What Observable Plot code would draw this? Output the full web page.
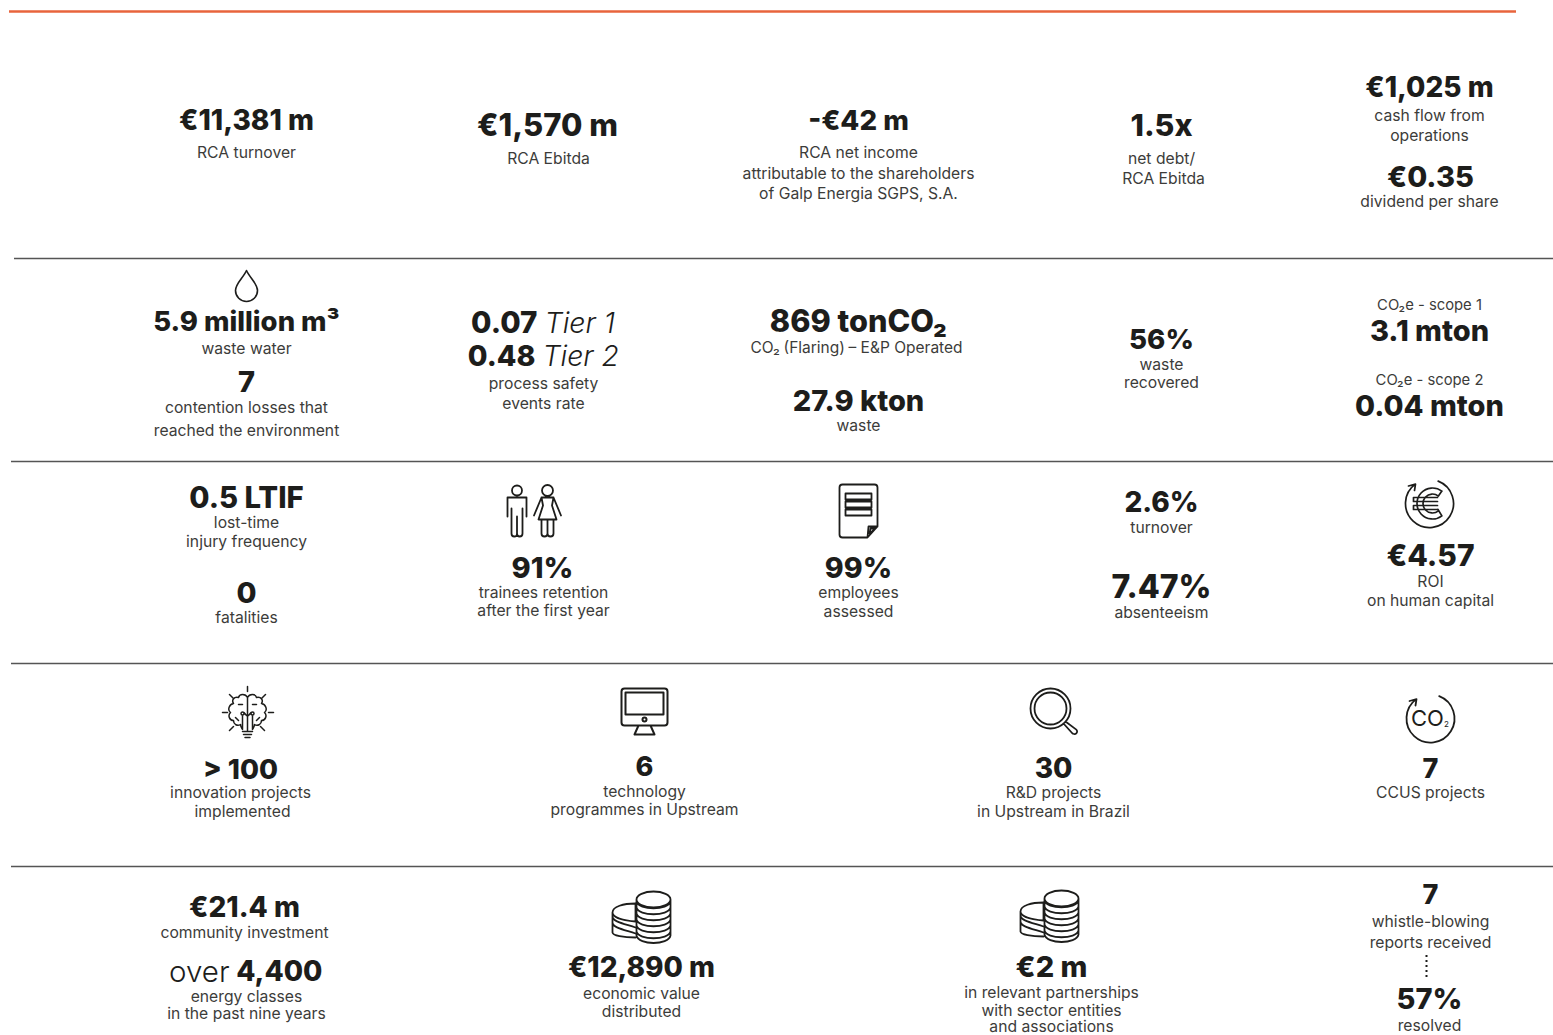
<!DOCTYPE html>
<html><head><meta charset="utf-8">
<script src="https://cdn.jsdelivr.net/npm/d3@7"></script>
<script src="https://cdn.jsdelivr.net/npm/@observablehq/plot@0.6"></script>
<style>html,body{margin:0;padding:0;background:#fff;overflow:hidden}svg{display:block}</style>
</head><body><div id="chart"></div>
<script>
// ---- figures and wording ----
const headlines = ["€11,381 m","€1,570 m","-€42 m","1.5x","€1,025 m","€0.35",
  "5.9 million m³","7","869 tonCO₂","27.9 kton","56%","3.1 mton","0.04 mton",
  "0.5 LTIF","0","91%","99%","2.6%","7.47%","€4.57",
  "> 100","6","30","7",
  "€21.4 m","€12,890 m","€2 m","7","57%"];
const splitHeadlines = ["0.07","0.48","4,400"];
const emphasis = ["Tier 1","Tier 2","over"];
const captions = ["RCA turnover","RCA Ebitda","RCA net income","attributable to the shareholders","of Galp Energia SGPS, S.A.",
  "net debt/","RCA Ebitda","cash flow from","operations","dividend per share",
  "waste water","contention losses that","reached the environment","process safety","events rate","waste","waste","recovered",
  "lost-time","injury frequency","fatalities","trainees retention","after the first year","employees","assessed","turnover","absenteeism","ROI","on human capital",
  "innovation projects","implemented","technology","programmes in Upstream","R&D projects","in Upstream in Brazil","CCUS projects",
  "community investment","energy classes","in the past nine years","economic value","distributed","in relevant partnerships","with sector entities","and associations",
  "whistle-blowing","reports received","resolved"];
const scopeLabels = ["CO₂e - scope 1","CO₂e - scope 2"];
const flaringParts = ["CO₂","(Flaring)","– E&P Operated"];

// ---- layout, kept apart from the values ----
const headlineX = [246,547,858,1161,1429,1430, 246,246,858,858,1161,1429,1429, 246,246,542,858,1161,1161,1430, 240,644,1053,1430, 244,641,1051,1430,1429];
const headlineY = [121,126,121,126,88,177, 322,382,322,401,340,331,406, 498,593,568,568,503,587,556, 770,767,769,769, 908,968,967,895,999];
const headlineSize = [28,31,27.7,30.5,28,29, 27.5,29,30.7,29,27.7,29,29, 29.3,29,29,28.6,28,32,30, 27.5,27,28,27, 28,28,29,27,29];
const splitX = [537,535,322];
const splitY = [323,356,972];
const splitSize = [29.6,28.6,28];
const emphasisX = [544,542,229];
const emphasisY = [323,356,972];
const emphasisSize = [28.5,28.4,29.5];
const captionX = [246,548,858,858,858,1161,1163,1429,1429,1429,
  246,246,246,543,543,858,1161,1161,
  246,246,246,543,543,858,858,1161,1161,1430,1430,
  240,242,644,644,1053,1053,1430,
  244,246,246,641,641,1051,1051,1051,1430,1430,1429];
const captionY = [152,158,152,173,193,158,178,115,135,201,
  348,407,430,383,403,425,364,382,
  522,541,617,592,610,592,611,527,612,581,600,
  792,811,791,809,792,811,792,
  932,996,1013,993,1011,992,1010,1026,921,942,1025];
const scopeX = [1429,1429];
const scopeY = [304.5,379.5];
const flaringX = [750,783,848];
const separatorY = [258,461,663,866];
const separatorStart = [14,11,11,11];

const ink = "#1d1d1b", soft = "#3c3c3a";

// ---- icon glyphs, drawn relative to their anchor ----
function ell(c,x,y,rx,ry){const k=.5523;c.moveTo(x-rx,y);c.bezierCurveTo(x-rx,y-ry*k,x-rx*k,y-ry,x,y-ry);c.bezierCurveTo(x+rx*k,y-ry,x+rx,y-ry*k,x+rx,y);c.bezierCurveTo(x+rx,y+ry*k,x+rx*k,y+ry,x,y+ry);c.bezierCurveTo(x-rx*k,y+ry,x-rx,y+ry*k,x-rx,y);c.closePath();}
function circ(c,x,y,r){c.moveTo(x+r,y);c.arc(x,y,r,0,2*Math.PI);}
function rrect(c,x,y,w,h,r){c.moveTo(x+r,y);c.lineTo(x+w-r,y);c.quadraticCurveTo(x+w,y,x+w,y+r);c.lineTo(x+w,y+h-r);c.quadraticCurveTo(x+w,y+h,x+w-r,y+h);c.lineTo(x+r,y+h);c.quadraticCurveTo(x,y+h,x,y+h-r);c.lineTo(x,y+r);c.quadraticCurveTo(x,y,x+r,y);c.closePath();}
function seg(c,...p){c.moveTo(p[0],p[1]);for(let i=2;i<p.length;i+=2)c.lineTo(p[i],p[i+1]);}
const glyphs = {
  drop:{draw(c){c.moveTo(0,-16);c.bezierCurveTo(3,-9,11,-3,11,4);c.arc(0,4,11,0,Math.PI);c.bezierCurveTo(-11,-3,-3,-9,0,-16);c.closePath();}},
  man:{draw(c){circ(c,0,-20,5);seg(c,-9.5,6,-9.5,-13,9.5,-13,9.5,6);seg(c,-5.5,-2,-5.5,23);c.quadraticCurveTo(-5.5,26,-2.7,26);c.quadraticCurveTo(0,26,0,23);c.lineTo(0,6);c.moveTo(0,23);c.quadraticCurveTo(0,26,2.7,26);c.quadraticCurveTo(5.5,26,5.5,23);c.lineTo(5.5,-2);}},
  woman:{draw(c){circ(c,0,-20,5.5);seg(c,-6,-13,6,-13);seg(c,-6,-13,-13.5,5);seg(c,6,-13,13.5,5);seg(c,-6,-13,-4.5,-5,-9,9,9,9,4.5,-5,6,-13);seg(c,-6,9,-6,23);c.quadraticCurveTo(-6,26,-3,26);c.quadraticCurveTo(0,26,0,23);c.lineTo(0,9);c.moveTo(0,23);c.quadraticCurveTo(0,26,3,26);c.quadraticCurveTo(6,26,6,23);c.lineTo(6,9);}},
  doc:{draw(c){c.moveTo(-16,-26);c.lineTo(16,-26);c.quadraticCurveTo(19,-26,19,-23);c.lineTo(19,16);c.lineTo(9,27);c.lineTo(-16,27);c.quadraticCurveTo(-19,27,-19,24);c.lineTo(-19,-23);c.quadraticCurveTo(-19,-26,-16,-26);c.closePath();c.rect(-13,-17,26,6);c.rect(-13,-9,26,6);c.rect(-13,-1,26,6);seg(c,19,16,10,16,9,27);seg(c,17,18,12,18,11,23,17,18);}},
  euro:{draw(c){c.arc(0,0,24,-1.2,4.08);seg(c,-21,-17.5,-14,-19.4,-15,-13);
    c.moveTo(12,-12);c.arc(3,0,15.5,-.92,.92-2*Math.PI,true);c.lineTo(8.5,6);c.arc(3,0,9.5,.9,-.9+2*Math.PI-4*Math.PI+2*Math.PI,false);c.closePath();
    seg(c,-16,-6,8,-6);seg(c,-16,-2,8,-2);seg(c,-16,2,8,2);seg(c,-16,6,8,6);seg(c,-16,-6,-16,-2);seg(c,-16,2,-16,6);}},
  brain:{draw(c){seg(c,0,-26,0,-21);seg(c,-25,0,-20,0);seg(c,21,0,26,0);seg(c,-18,-18,-14,-14);seg(c,18,-18,14,-14);seg(c,-18,18,-14,14);seg(c,17,18,13,14);
    c.moveTo(0,-15);c.bezierCurveTo(-2,-19,-8,-19,-9,-15);c.bezierCurveTo(-14,-16,-16,-12,-14,-9);c.bezierCurveTo(-19,-8,-20,-2,-17,0);c.bezierCurveTo(-20,3,-18,8,-14,8);c.bezierCurveTo(-14,12,-10,14,-7,12);c.bezierCurveTo(-7,14,-6,15,-5,17);
    c.moveTo(0,-15);c.bezierCurveTo(2,-19,8,-19,9,-15);c.bezierCurveTo(14,-16,16,-12,14,-9);c.bezierCurveTo(19,-8,20,-2,17,0);c.bezierCurveTo(20,3,18,8,14,8);c.bezierCurveTo(14,12,10,14,7,12);c.bezierCurveTo(7,14,6,15,5,17);
    seg(c,0,-15,0,18);seg(c,-5,3,-5,17);seg(c,5,3,5,17);circ(c,-5,1,1.5);circ(c,5,1,1.5);seg(c,-3.5,0,-1,3);seg(c,3.5,0,1,3);
    seg(c,-5,19,5,19);seg(c,-4,22,4,22);seg(c,-2.5,25,2.5,25);
    seg(c,-9,-8,-5,-8);seg(c,9,-8,5,-8);seg(c,-12,5,-9,8);seg(c,12,5,9,8);}},
  monitor:{draw(c){rrect(c,-23,-22,46,37,3);c.rect(-19,-18,38,22);circ(c,0,9,2);seg(c,-6,15,-10,24,10,24,6,15);seg(c,-10,24,-6,15);}},
  lens:{draw(c){circ(c,0,0,20);circ(c,0,0,16);c.moveTo(13,15);c.lineTo(22,25);c.arc(24,23,2.6,2.4,-.8,true);c.lineTo(15,13);}},
  co2:{draw(c){c.arc(0,0,24,-1.2,4.08);seg(c,-21,-17.5,-14,-19.4,-15,-13);}},
  coins:{draw(c){
    ell(c,0,-22,17,8);
    for(const y of [-17,-11,-5,1,7,13]){c.moveTo(-17,y-3);c.bezierCurveTo(-15,y+6,15,y+6,17,y-3);}
    seg(c,-17,-22,-17,14);seg(c,17,-22,17,14);
    c.moveTo(-17,14);c.bezierCurveTo(-15,24,15,24,17,14);
    c.moveTo(-18,-18);c.bezierCurveTo(-30,-18,-41,-15,-41,-9);c.bezierCurveTo(-41,-4,-30,-1,-18,0);c.lineTo(-18,-18);
    for(const y of [0,6]){c.moveTo(-41,y-5);c.bezierCurveTo(-41,y,-30,y+2,-18,y+6);}
    seg(c,-41,-9,-41,11);c.moveTo(-41,11);c.bezierCurveTo(-41,14,-30,16,-18,16);}}
};
const iconName = ["drop","man","woman","doc","euro","brain","monitor","lens","co2","coins","coins"];
const iconX = [246,516.5,547,858,1429,247,644,1050,1430,653,1061];
const iconY = [286,510,510,510,503,712,710,708,718,921,920];
const iconWeight = [1.6,1.8,1.8,1.8,1.7,1.5,2,1.8,1.8,1.8,1.8];
const iconMarks = iconName.map((n,i)=>Plot.vector([n],{x:()=>iconX[i],y:()=>iconY[i],length:1,rotate:0,anchor:"start",shape:glyphs[n],stroke:ink,strokeWidth:iconWeight[i]}));

const plot = Plot.plot({
  width:1553,height:1035,margin:0,
  x:{domain:[0,1553],range:[0,1553],axis:null},
  y:{domain:[0,1035],range:[0,1035],axis:null},
  style:{fontFamily:"Inter, sans-serif",background:"#fff"},
  marks:[
    Plot.ruleY([11],{x1:9,x2:1516,stroke:"#e8643c",strokeWidth:2.5}),
    Plot.ruleY(separatorY,{x1:(d,i)=>separatorStart[i],x2:1553,stroke:"#555",strokeWidth:1.3}),
    Plot.ruleX([1426],{y1:955,y2:980,stroke:ink,strokeWidth:2,strokeDasharray:"2 3"}),
    ...iconMarks,
    Plot.text(["CO"],{x:()=>1427,y:()=>718,text:d=>d,fontSize:22,fill:ink}),
    Plot.text(["2"],{x:()=>1446,y:()=>724,text:d=>d,fontSize:8,fill:ink}),
    Plot.text(headlines,{x:(d,i)=>headlineX[i],y:(d,i)=>headlineY[i],text:d=>d,fontSize:(d,i)=>headlineSize[i],fontWeight:800,fill:ink}),
    Plot.text(splitHeadlines,{x:(d,i)=>splitX[i],y:(d,i)=>splitY[i],text:d=>d,fontSize:(d,i)=>splitSize[i],fontWeight:800,fill:ink,textAnchor:"end"}),
    Plot.text(emphasis.slice(0,2),{x:(d,i)=>emphasisX[i],y:(d,i)=>emphasisY[i],text:d=>d,fontSize:(d,i)=>emphasisSize[i],fontStyle:"italic",fontWeight:300,fill:ink,textAnchor:"start"}),
    Plot.text(emphasis.slice(2),{x:()=>emphasisX[2],y:()=>emphasisY[2],text:d=>d,fontSize:emphasisSize[2],fontWeight:300,fill:ink,textAnchor:"end"}),
    Plot.text(captions,{x:(d,i)=>captionX[i],y:(d,i)=>captionY[i]+0.5,text:d=>d,fontSize:15.7,fill:soft}),
    Plot.text(scopeLabels,{x:(d,i)=>scopeX[i],y:(d,i)=>scopeY[i],text:d=>d,fontSize:14.8,fill:soft}),
    Plot.text(flaringParts,{x:(d,i)=>flaringX[i],y:()=>347.5,text:d=>d,fontSize:15.5,fill:soft,textAnchor:"start",fontStyle:(d,i)=>i===1?"italic":"normal"})
  ]
});
document.getElementById("chart").append(plot);
</script></body></html>
